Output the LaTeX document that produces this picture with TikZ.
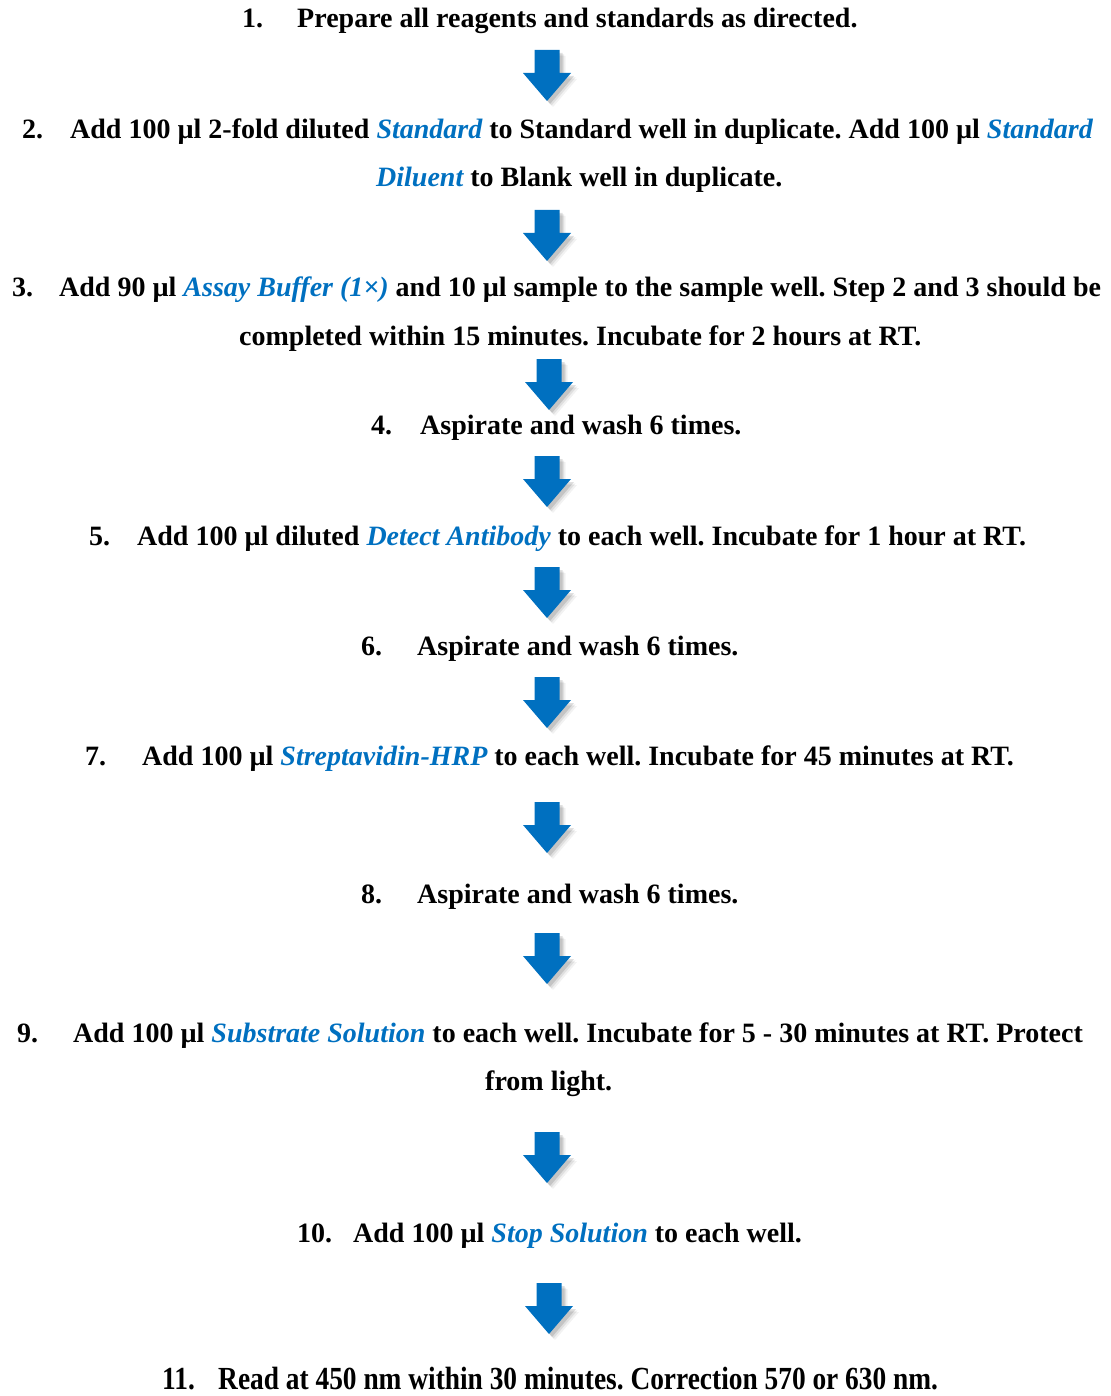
\documentclass[tikz,border=0pt]{standalone}
\usepackage{fontspec}
\setmainfont{Liberation Serif}
\definecolor{stepblue}{HTML}{0070C0}
\newcommand{\kw}[1]{{\itshape\color{stepblue}#1}}
\newcommand{\stepnum}[2]{\makebox[#1pt][l]{#2}}
\frenchspacing
\begin{document}
\begin{tikzpicture}[x=1pt,y=-1pt,
  steptext/.style={inner sep=0pt, anchor=base west, font=\fontsize{28}{32}\selectfont\bfseries}]
\useasboundingbox (0,0) rectangle (1110,1396);

% text lines
\node[steptext] (s1)  at (242,28)   {\stepnum{55}{1.}Prepare all reagents and standards as directed.};
\node[steptext] (s2)  at (22,139)   {\stepnum{48}{2.}Add 100 µl 2-fold diluted \kw{Standard} to Standard well in duplicate. Add 100 µl \kw{Standard}};
\node[steptext] (s2b) at (376,187)  {\kw{Diluent} to Blank well in duplicate.};
\node[steptext] (s3)  at (12,297)   {\stepnum{47}{3.}Add 90 µl \kw{Assay Buffer (1×)} and 10 µl sample to the sample well. Step 2 and 3 should be};
\node[steptext] (s3b) at (239,345)  {completed within 15 minutes. Incubate for 2 hours at RT.};
\node[steptext] (s4)  at (371,434)  {\stepnum{49}{4.}Aspirate and wash 6 times.};
\node[steptext] (s5)  at (89,545)   {\stepnum{48}{5.}Add 100 µl diluted \kw{Detect Antibody} to each well. Incubate for 1 hour at RT.};
\node[steptext] (s6)  at (361,655)  {\stepnum{56}{6.}Aspirate and wash 6 times.};
\node[steptext] (s7)  at (85,765)   {\stepnum{57}{7.}Add 100 µl \kw{Streptavidin-HRP} to each well. Incubate for 45 minutes at RT.};
\node[steptext] (s8)  at (361,903)  {\stepnum{56}{8.}Aspirate and wash 6 times.};
\node[steptext] (s9)  at (17,1042)  {\stepnum{56}{9.}Add 100 µl \kw{Substrate Solution} to each well. Incubate for 5 - 30 minutes at RT. Protect};
\node[steptext] (s9b) at (485,1090) {from light.};
\node[steptext] (s10) at (297,1242) {\stepnum{56}{10.}Add 100 µl \kw{Stop Solution} to each well.};
\node[steptext] (s11) at (162,1389) {\scalebox{0.978}[1.15]{\stepnum{57.3}{11.}Read at 450 nm within 30 minutes. Correction 570 or 630 nm.}};

% block arrows
\coordinate (a1) at (547,50);
\coordinate (a2) at (547,210);
\coordinate (a3) at (549,359);
\coordinate (a4) at (547,456);
\coordinate (a5) at (547,567);
\coordinate (a6) at (547,677);
\coordinate (a7) at (547,802);
\coordinate (a8) at (547,933);
\coordinate (a9) at (547,1132);
\coordinate (a10) at (549,1283);

\foreach \i in {1,...,10}{
  \foreach \d/\o in {6/0.05,4.5/0.08,3/0.12}{
    \fill[black,opacity=\o] ([xshift=\d pt,yshift=-\d pt]a\i) ++(-12.5,0) -- ++(25,0) -- ++(0,23) -- ++(11.5,0) -- ++(-24,28) -- ++(-24,-28) -- ++(11.5,0) -- cycle;
  }
  \fill[stepblue] (a\i) ++(-12.5,0) -- ++(25,0) -- ++(0,23) -- ++(11.5,0) -- ++(-24,28) -- ++(-24,-28) -- ++(11.5,0) -- cycle;
}
\end{tikzpicture}
\end{document}
